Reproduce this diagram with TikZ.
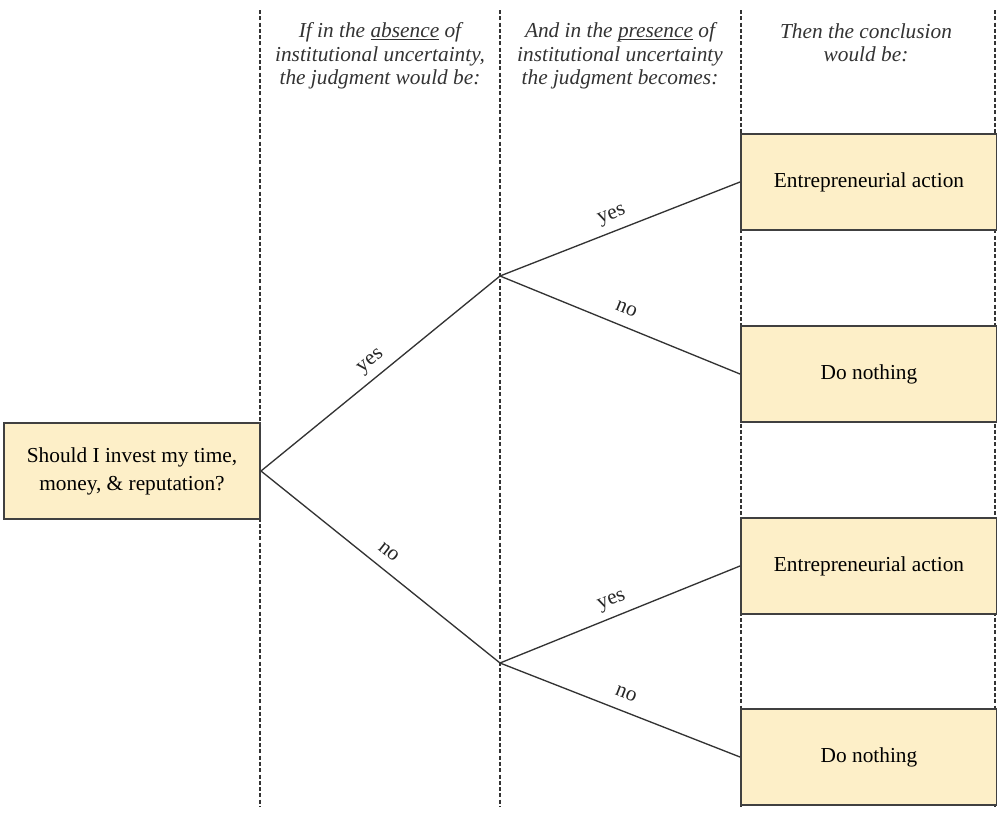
\documentclass[tikz,border=0pt]{standalone}
\usepackage{fontspec}
\setmainfont{Liberation Serif}
\newcommand\myul[1]{\underline{\smash{#1}}}
\begin{document}
\begin{tikzpicture}[x=0.75pt,y=-0.75pt,
  every node/.style={font=\fontsize{16}{21}\selectfont},
  box/.style={draw=black!75, line width=1.5pt, fill=boxfill, minimum width=192pt, minimum height=71.5pt, inner sep=0pt, align=center},
  colline/.style={draw=black!80, line width=1.4pt, dash pattern=on 3pt off 1.7pt},
  conn/.style={draw=black!80, line width=1pt},
  head/.style={align=center, font=\fontsize{16}{17.6}\selectfont\itshape, text=black!80},
  lbl/.style={sloped, above=3.5pt, inner sep=2pt, text height=7pt, text depth=3pt, text=black!85}
]
\definecolor{boxfill}{HTML}{FDEFC8}
\useasboundingbox (0,0) rectangle (997,814);
\clip (0,0) rectangle (997,814);
% column separators
\coordinate (c1t) at (260,10); \coordinate (c1b) at (260,806);
\coordinate (c2t) at (500,10); \coordinate (c2b) at (500,806);
\coordinate (c3t) at (741,10); \coordinate (c3b) at (741,806);
\coordinate (c4t) at (995,10); \coordinate (c4b) at (995,806);
\draw[colline] (c1t) -- (c1b);
\draw[colline] (c2t) -- (c2b);
\draw[colline] (c3t) -- (c3b);
\draw[colline] (c4t) -- (c4b);
% headers
\node[head] (h1) at (380,56) {If in the \myul{absence} of\\institutional uncertainty,\\the judgment would be:};
\node[head] (h2) at (620,56) {And in the \myul{presence} of\\institutional uncertainty\\the judgment becomes:};
\node[head] (h3) at (866,43) {Then the conclusion\\would be:};
% boxes
\node[box] (q) at (132,471) {Should I invest my time,\\money, \& reputation?};
\node[box] (a1) at (869,182) {\strut Entrepreneurial action};
\node[box] (a2) at (869,374) {\strut Do nothing};
\node[box] (a3) at (869,566) {\strut Entrepreneurial action};
\node[box] (a4) at (869,757) {\strut Do nothing};
% branch points
\coordinate (b1) at (500,276);
\coordinate (b2) at (500,663);
% connectors
\draw[conn] (q.east) -- node[lbl, pos=0.5] {yes} (b1);
\draw[conn] (q.east) -- node[lbl, pos=0.49] {no} (b2);
\draw[conn] (b1) -- node[lbl, pos=0.49] {yes} (a1.west);
\draw[conn] (b1) -- node[lbl, pos=0.5] {no} (a2.west);
\draw[conn] (b2) -- node[lbl, pos=0.49] {yes} (a3.west);
\draw[conn] (b2) -- node[lbl, pos=0.5] {no} (a4.west);
\end{tikzpicture}
\end{document}
